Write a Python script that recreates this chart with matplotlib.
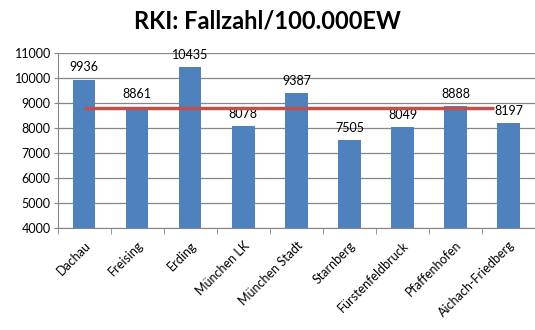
import numpy as np
import matplotlib.pyplot as plt

plt.rcParams['font.family'] = ['Lato', 'DejaVu Sans']

# ── Data ──────────────────────────────────────────────────────────────────────
districts = ['Dachau', 'Freising', 'Erding', 'München LK', 'München Stadt',
             'Starnberg', 'Fürstenfeldbruck', 'Pfaffenhofen', 'Aichach-Friedberg']
cases_per_100k = [9936, 8861, 10435, 8078, 9387, 7505, 8049, 8888, 8197]
mean_value = 8815
y_ticks = [4000, 5000, 6000, 7000, 8000, 9000, 10000, 11000]

# ── Plot ──────────────────────────────────────────────────────────────────────
fig = plt.figure(figsize=(5.35, 3.30), dpi=100)
ax = fig.add_axes([0.108, 0.309, 0.892, 0.530])

x = np.arange(len(districts))
ax.bar(x, cases_per_100k, width=0.42, color='#4F81BD', zorder=2)
for xi, v in zip(x, cases_per_100k):
    ax.annotate(str(v), (xi, v), xytext=(0, 4.5), textcoords='offset points',
                ha='center', va='bottom', fontsize=9, color='black')

ax.hlines(mean_value, 0, 7.72, color='#C0504D', lw=2.5, zorder=3)

ax.set_xlim(-0.5, len(districts) - 0.5)
ax.set_ylim(4000, 11000)
ax.set_yticks(y_ticks)
ax.tick_params(axis='y', labelsize=9, length=3, color='#868686', pad=2)
ax.grid(axis='y', color='#868686', lw=0.9, zorder=0)

ax.set_xticks(x)
ax.set_xticklabels(districts, rotation=45, ha='right', rotation_mode='anchor',
                   fontsize=9)
ax.tick_params(axis='x', which='major', length=0, pad=8)
ax.set_xticks(np.arange(len(districts) + 1) - 0.5, minor=True)
ax.tick_params(axis='x', which='minor', length=4, color='#868686')

for s in ['top', 'right']:
    ax.spines[s].set_visible(False)
for s in ['left', 'bottom']:
    ax.spines[s].set_color('#868686')

fig.text(0.50, 0.935, 'RKI: Fallzahl/100.000EW', ha='center', va='center',
         fontsize=17, fontweight='bold')

fig.savefig('out.png', dpi=100)
